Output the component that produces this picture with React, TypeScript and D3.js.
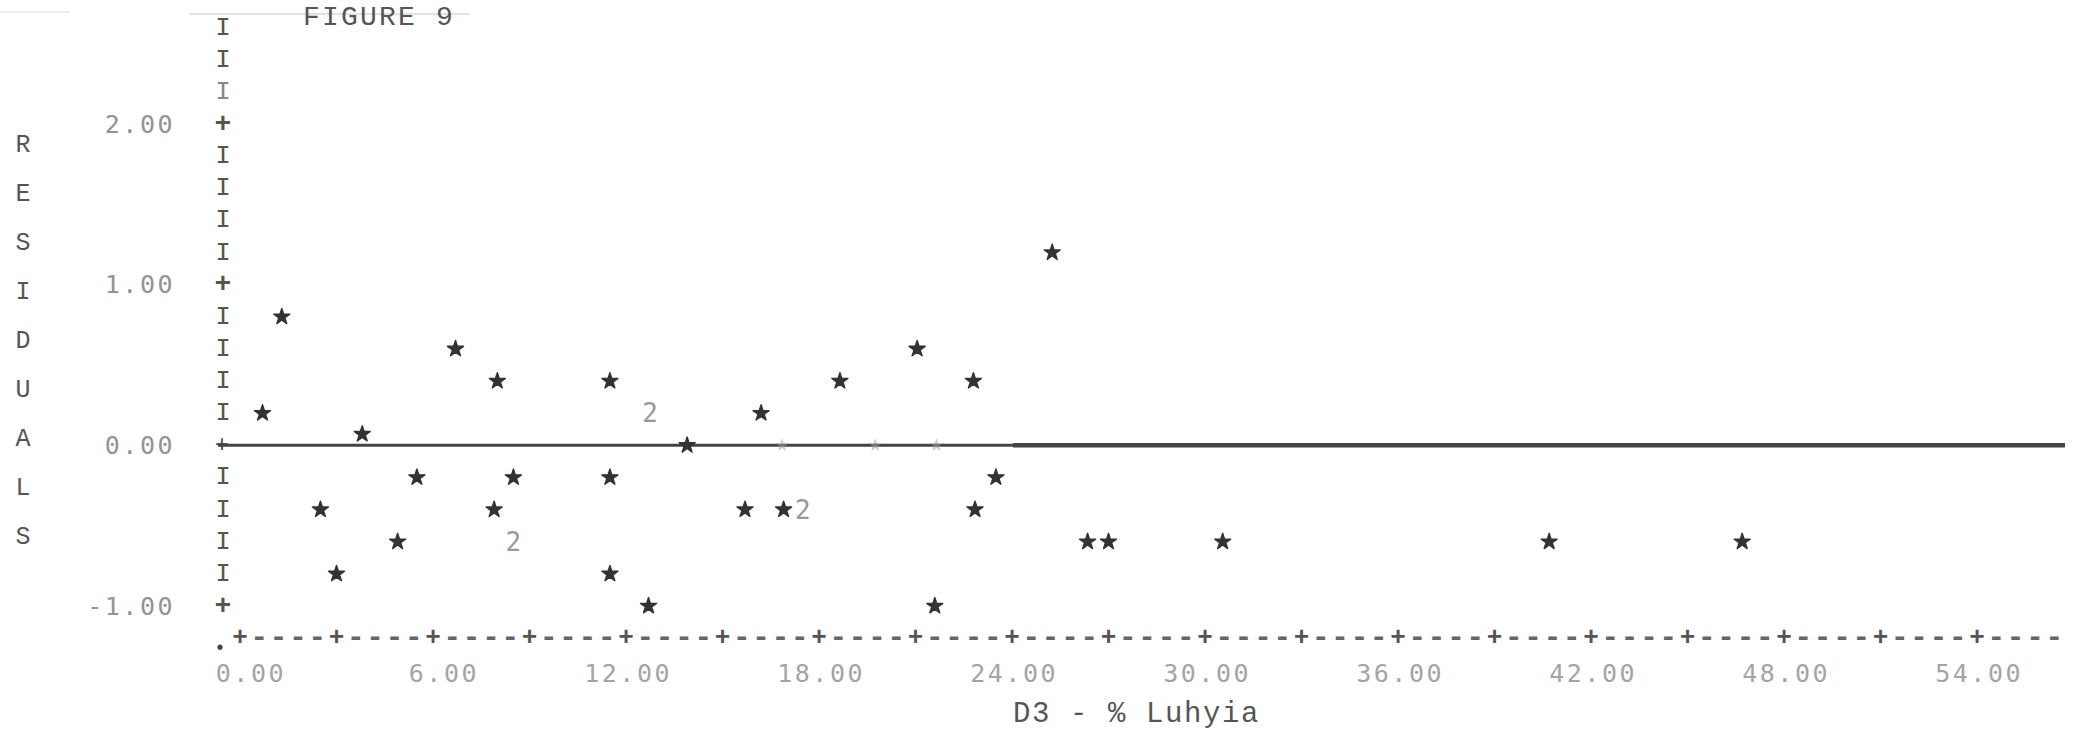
import React from "react";
import * as d3 from "d3";

// ---- data (printer-plot of residuals) ----
const starX = [0.7, 1.3, 2.5, 3.0, 3.8, 4.9, 5.5, 6.7, 7.9, 8.0, 8.5, 11.5, 11.5, 11.5, 12.7, 13.9, 15.7, 16.2, 16.9, 18.65, 21.05, 21.6, 22.8, 22.85, 23.5, 25.25, 26.35, 27.0, 30.55, 40.7, 46.7];
const starY = [0.2, 0.8, -0.4, -0.8, 0.07, -0.6, -0.2, 0.6, -0.4, 0.4, -0.2, 0.4, -0.2, -0.8, -1.0, 0.0, -0.4, 0.2, -0.4, 0.4, 0.6, -1.0, 0.4, -0.4, -0.2, 1.2, -0.6, -0.6, -0.6, -0.6, -0.6];
const doubleX = [12.75, 8.5, 17.5];
const doubleY = [0.2, -0.6, -0.4];
const faintX = [16.85, 19.75, 21.65];
const faintY = [0, 0, 0];

const xTickValues = [0, 6, 12, 18, 24, 30, 36, 42, 48, 54];
const xTickLabels = ["0.00", "6.00", "12.00", "18.00", "24.00", "30.00", "36.00", "42.00", "48.00", "54.00"];
const yTickValues = [2, 1, 0, -1];
const yTickLabels = ["2.00", "1.00", "0.00", "-1.00"];

const titleText = "FIGURE 9";
const yTitleLetters = ["R", "E", "S", "I", "D", "U", "A", "L", "S"];
const xTitleText = "D3 - % Luhyia";

const MONO = "'Liberation Mono', 'DejaVu Sans Mono', monospace";
const DOT = "'DejaVu Sans Mono', monospace";

export default function App() {
  const W = 2080;
  const H = 735;
  const x = d3.scaleLinear().domain([0, 54]).range([240, 1977]);
  const y = d3.scaleLinear().domain([-1, 2]).range([606, 124]);

  const star = d3.symbol().type(d3.symbolStar).size(80)();
  const starSmall = d3.symbol().type(d3.symbolStar).size(55)();

  const rowIdx = d3.range(-5, 14); // -1.0 .. 2.6 in 0.2 steps
  const colIdx = d3.range(0, 95); // 0 .. 56.4 in 0.6 steps
  const axisX = 223;
  const axisRowY = y(-1.2);

  const stars = starX.map((v, i) => ({ x: v, y: starY[i] }));
  const doubles = doubleX.map((v, i) => ({ x: v, y: doubleY[i] }));
  const faint = faintX.map((v, i) => ({ x: v, y: faintY[i] }));

  return (
    <svg
      width={W}
      height={H}
      style={{ position: "absolute", left: 0, top: 0, display: "block", background: "#ffffff" }}
    >
      <rect x={0} y={0} width={W} height={H} fill="#ffffff" />

      {/* title with faint rule */}
      <line x1={190} x2={470} y1={14} y2={14} stroke="#e2e2e2" strokeWidth={2} />
      <line x1={0} x2={70} y1={12} y2={12} stroke="#ececec" strokeWidth={2} />
      <text x={303} y={25} fontFamily={MONO} fontSize={28} letterSpacing={2.2} fill="#555">
        {titleText}
      </text>

      {/* y axis title, vertical letters */}
      {yTitleLetters.map((c, i) => (
        <text
          key={"yt" + i}
          x={23}
          y={145 + i * 49}
          fontFamily={MONO}
          fontSize={25}
          fill="#555"
          textAnchor="middle"
          dominantBaseline="central"
        >
          {c}
        </text>
      ))}

      {/* y axis printer column */}
      {rowIdx.map((i) => {
        const v = i * 0.2;
        const major = i % 5 === 0;
        if (i === 0) return null;
        return (
          <text
            key={"yr" + i}
            x={axisX}
            y={y(v)}
            fontFamily={MONO}
            fontSize={major ? 28 : 26}
            fontWeight={major ? "bold" : "normal"}
            fill={i > 10 && i < 12 ? "#888" : "#555"}
            textAnchor="middle"
            dominantBaseline="central"
          >
            {major ? "+" : "I"}
          </text>
        );
      })}

      {/* y tick labels */}
      {yTickValues.map((v, i) => (
        <text
          key={"yl" + i}
          x={175}
          y={y(v)}
          fontFamily={DOT}
          fontSize={25}
          letterSpacing={2.5}
          fill="#939393"
          textAnchor="end"
          dominantBaseline="central"
        >
          {yTickLabels[i]}
        </text>
      ))}

      {/* zero reference line */}
      <line x1={218} x2={1013} y1={y(0)} y2={y(0)} stroke="#444" strokeWidth={3} />
      <line x1={1013} x2={2065} y1={y(0)} y2={y(0)} stroke="#444" strokeWidth={4.5} />
      <text x={222} y={y(0)} fontFamily={MONO} fontSize={24} fill="#444" textAnchor="middle" dominantBaseline="central">
        +
      </text>

      {/* x axis printer row */}
      <circle cx={220} cy={axisRowY + 9} r={2.6} fill="#444" />
      {colIdx.map((i) => {
        const v = i * 0.6;
        const major = i % 5 === 0;
        return (
          <text
            key={"xc" + i}
            x={x(v)}
            y={axisRowY}
            fontFamily={MONO}
            fontSize={major ? 26 : 30}
            fontWeight="bold"
            fill={major ? "#555" : "#666"}
            textAnchor="middle"
            dominantBaseline="central"
          >
            {major ? "+" : "-"}
          </text>
        );
      })}

      {/* x tick labels */}
      {xTickValues.map((v, i) => (
        <text
          key={"xl" + i}
          x={x(v) + 46}
          y={682}
          fontFamily={DOT}
          fontSize={25}
          letterSpacing={2.5}
          fill="#a4a4a4"
          textAnchor="end"
        >
          {xTickLabels[i]}
        </text>
      ))}

      {/* x axis title */}
      <text x={1013} y={722} fontFamily={MONO} fontSize={29} letterSpacing={1.6} fill="#555">
        {xTitleText}
      </text>

      {/* faint overstrikes on zero line */}
      {faint.map((d, i) => (
        <path
          key={"f" + i}
          d={starSmall}
          transform={`translate(${x(d.x)},${y(d.y)})`}
          fill="#9a9a9a"
          opacity={0.55}
        />
      ))}

      {/* plotted residuals */}
      {stars.map((d, i) => (
        <path
          key={"s" + i}
          d={star}
          transform={`translate(${x(d.x)},${y(d.y)})`}
          fill="#333"
          stroke="#333"
          strokeWidth={1.4}
          strokeLinejoin="round"
        />
      ))}

      {/* multiple-point markers */}
      {doubles.map((d, i) => (
        <text
          key={"d" + i}
          x={x(d.x)}
          y={y(d.y)}
          fontFamily={DOT}
          fontSize={26}
          fill="#999"
          textAnchor="middle"
          dominantBaseline="central"
        >
          2
        </text>
      ))}
    </svg>
  );
}
